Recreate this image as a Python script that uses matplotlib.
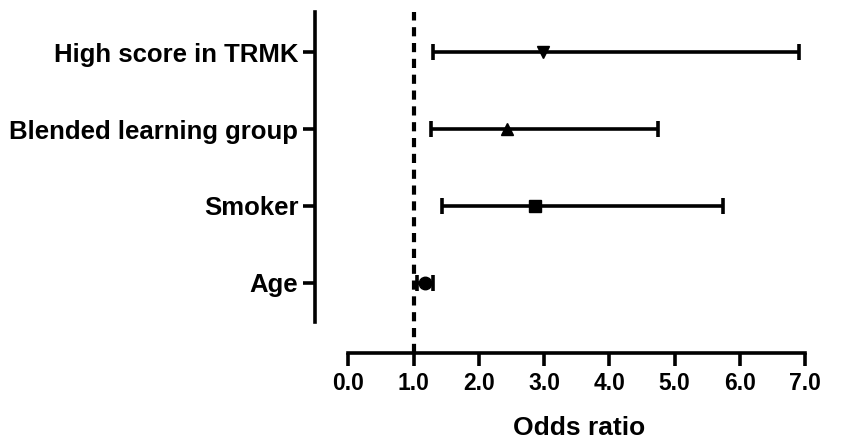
import numpy as np
import matplotlib
matplotlib.use("Agg")
import matplotlib.pyplot as plt

plt.rcParams['font.family'] = ['Liberation Sans', 'DejaVu Sans']
plt.rcParams['font.weight'] = 'bold'

# data (top to bottom in the picture)
labels = ["High score in TRMK", "Blended learning group", "Smoker", "Age"]
odds = [2.98, 2.43, 2.86, 1.17]
ci_low = [1.30, 1.26, 1.43, 1.06]
ci_high = [6.91, 4.74, 5.74, 1.30]
markers = ["v", "^", "s", "o"]

ypos = [4, 3, 2, 1]

fig = plt.figure(figsize=(8.43, 4.43), dpi=100)
ax = fig.add_axes([315/843, 90/443, (815-315)/843, (443-90-12)/443])

ax.axvline(1.0, color="black", lw=3, dashes=(2.2, 1.6), zorder=1)

for y, o, lo, hi, m in zip(ypos, odds, ci_low, ci_high, markers):
    ax.errorbar(o, y, xerr=[[o - lo], [hi - o]], fmt=m, color="black",
                ms=9, lw=2.6, capsize=6, capthick=2.6, zorder=3)

ax.set_xlim(-0.51, 7.15)
ax.set_ylim(0.09, 4.52)

ax.spines["top"].set_visible(False)
ax.spines["right"].set_visible(False)
ax.spines["left"].set_linewidth(2.6)
ax.spines["bottom"].set_linewidth(2.6)
ax.spines["left"].set_bounds(0.49, 4.52)
ax.spines["bottom"].set_bounds(0, 7)

ax.set_xticks(np.arange(0, 8, 1))
ax.set_xticklabels(["%.1f" % v for v in np.arange(0, 8, 1)])
ax.set_yticks(ypos)
ax.set_yticklabels(labels)

ax.tick_params(axis="y", length=9, width=2.6, labelsize=18.5, pad=3)
ax.tick_params(axis="x", length=9, width=2.6, labelsize=16.5, pad=5)
for t in ax.get_xticklabels() + ax.get_yticklabels():
    t.set_fontweight("bold")

ax.set_xlabel("Odds ratio", fontsize=19, fontweight="bold")
ax.xaxis.set_label_coords(0.528, -0.185)

fig.savefig("out.png", dpi=100)
